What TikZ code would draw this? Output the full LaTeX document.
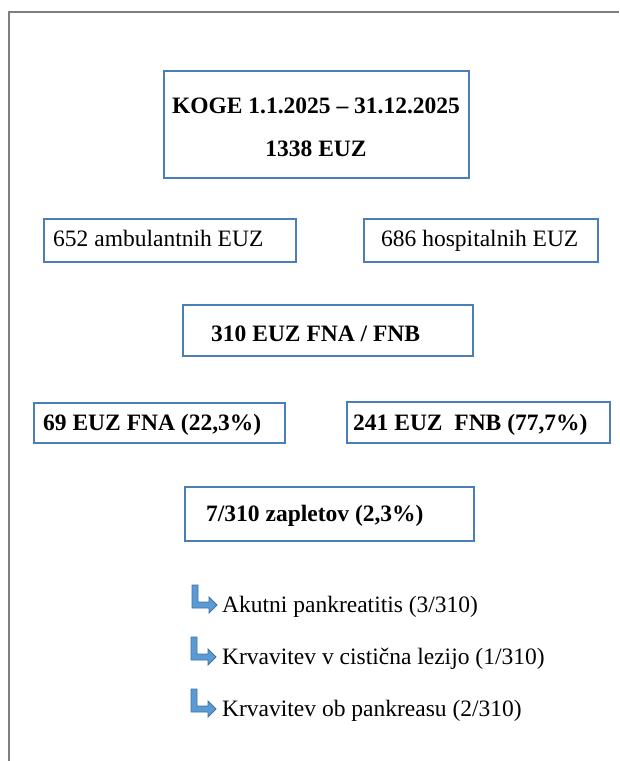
\documentclass[tikz,border=0pt]{standalone}
\usepackage{fontspec}
\setmainfont{Liberation Serif}
\begin{document}
\begin{tikzpicture}[x=1pt,y=-1pt,
  box/.style={draw=boxblue, line width=1.8pt, fill=white, inner sep=0pt, anchor=north west},
  txt/.style={inner sep=0pt, anchor=base west, font=\fontsize{23.5}{28}\selectfont},
  btxt/.style={txt, font=\fontsize{23.5}{28}\selectfont\bfseries},
  turnarrow/.style={fill=arrowblue, draw=arrowedge, line width=0.8pt, line join=miter}
]
\definecolor{boxblue}{HTML}{4A7EBB}
\definecolor{arrowblue}{HTML}{5B9BD5}
\definecolor{arrowedge}{HTML}{41719C}
\definecolor{framegray}{HTML}{7F7F7F}
\useasboundingbox (0,0) rectangle (619,761);
\fill[white] (0,0) rectangle (619,761);
% outer frame
\draw[framegray, line width=2pt] (9,761) -- (9,12) -- (619,12);

% boxes
\node[box, minimum width=305, minimum height=107] (koge) at (163,70) {};
\node[btxt, anchor=base] (kogeA) at (316,113) {KOGE 1.1.2025 – 31.12.2025};
\node[btxt, anchor=base] (kogeB) at (316,156) {1338 EUZ};

\node[box, minimum width=252, minimum height=43] (amb) at (43,218) {};
\node[txt] (ambT) at (53,246) {652 ambulantnih EUZ};

\node[box, minimum width=234, minimum height=43] (hosp) at (363,218) {};
\node[txt] (hospT) at (381,246) {686 hospitalnih EUZ};

\node[box, minimum width=290, minimum height=51] (fnafnb) at (182,304) {};
\node[btxt] (fnafnbT) at (211,341) {310 EUZ FNA / FNB};

\node[box, minimum width=251, minimum height=40] (fna) at (33,402) {};
\node[btxt] (fnaT) at (43,430) {69 EUZ FNA (22,3\%)};

\node[box, minimum width=263, minimum height=41] (fnb) at (346,401) {};
\node[btxt] (fnbT) at (353,430) {241 EUZ\ \ FNB (77,7\%)};

\node[box, minimum width=289, minimum height=54] (zap) at (184,486) {};
\node[btxt] (zapT) at (206,521) {7/310 zapletov (2,3\%)};

% complication list with bent arrows
\foreach \ax/\ay/\ty/\nm/\tx in {192/585/612/a/{Akutni pankreatitis (3/310)},
                                   191/637/664/b/{Krvavitev v cistična lezijo (1/310)},
                                   191/689/716/c/{Krvavitev ob pankreasu (2/310)}}{
  \begin{scope}[shift={(\ax,\ay)}]
    \draw[turnarrow] (0,0) -- (6,0) -- (6,17) -- (17,17) -- (17,12) -- (25,20)
      -- (17,28) -- (17,23) -- (0,23) -- cycle;
  \end{scope}
  \node[txt] (item\nm) at (222,\ty) {\tx};
}
\end{tikzpicture}
\end{document}
